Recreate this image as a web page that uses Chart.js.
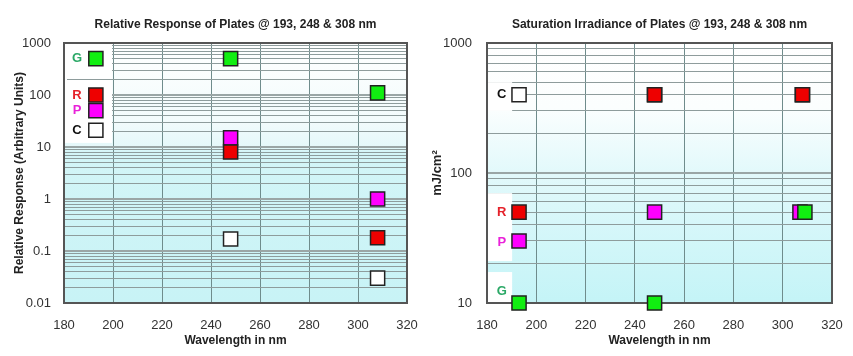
<!DOCTYPE html>
<html><head><meta charset="utf-8">
<script src="https://cdn.jsdelivr.net/npm/chart.js@4"></script>
<style>
body{margin:0;background:#fff;width:853px;height:356px;overflow:hidden;position:relative}
canvas{position:absolute;top:0}
</style></head>
<body>
<canvas id="c1" width="430" height="356" style="left:0"></canvas>
<canvas id="c2" width="423" height="356" style="left:430px"></canvas>
<script>
// ---- data ----
const wavelengths = [193, 248, 308];
const leftG = [500, 500, 110];
const leftR = [100, 8, 0.18];
const leftP = [50, 15, 1];
const leftC = [21, 0.17, 0.03];

const rightGX = [193, 248, 309];
const rightG = [10, 10, 50];
const rightR = [50, 400, 400];
const rightPX = [193, 248, 307];
const rightP = [30, 50, 50];
const rightC = [400, 400, 400];

const xTicks = [180, 200, 220, 240, 260, 280, 300, 320];
const leftYMajor = [0.01, 0.1, 1, 10, 100, 1000];
const leftYLabels = ['0.01', '0.1', '1', '10', '100', '1000'];
const rightYMajor = [10, 100, 1000];
const rightYLabels = ['10', '100', '1000'];
const minorSteps = [1, 2, 3, 4, 5, 6, 7, 8, 9];

const seriesNames = ['G', 'R', 'P', 'C'];
const leftLabelY = [500, 100, 50, 21];
const rightLabelY = [12.2, 50, 29, 400];

const COL = {G:'#11ee11', R:'#ee0000', P:'#ff00ff', C:'#ffffff'};
const TXT = {G:'#2aa866', R:'#e5222b', P:'#e922d9', C:'#111111'};
const FONT = '"Liberation Sans", Arial, sans-serif';

function allTicks(major){
  const out = [];
  for (let i = 0; i < major.length - 1; i++) minorSteps.forEach(s => out.push(major[i] * s));
  out.push(major[major.length - 1]);
  return out;
}
function isMajor(v){ const l = Math.log10(v); return Math.abs(l - Math.round(l)) < 1e-9; }

function pts(xs, ys){ return xs.map((x, i) => ({x: x, y: ys[i]})); }
function ds(name, xs, ys){
  return {label: name, data: pts(xs, ys), backgroundColor: COL[name], borderColor: '#222',
    borderWidth: 1.5, pointStyle: 'rect', pointRadius: 10, pointHoverRadius: 10, showLine: false, clip: false};
}

const bgPlugin = {
  id: 'bgp',
  beforeDraw(chart, args, opts){
    const {ctx, chartArea: a} = chart;
    const g = ctx.createLinearGradient(0, a.top, 0, a.bottom);
    opts.stops.forEach(s => g.addColorStop(s[0], s[1]));
    ctx.save(); ctx.fillStyle = g; ctx.fillRect(a.left, a.top, a.right - a.left, a.bottom - a.top); ctx.restore();
  },
  beforeDatasetsDraw(chart, args, opts){
    const {ctx, chartArea: a, scales: {x, y}} = chart;
    ctx.save();
    ctx.fillStyle = '#ffffff';
    opts.boxes.forEach(b => {
      const x0 = x.getPixelForValue(b[0]), x1 = x.getPixelForValue(b[1]);
      const y0 = y.getPixelForValue(b[3]), y1 = y.getPixelForValue(b[2]);
      ctx.fillRect(Math.max(x0, a.left + 1), y0, x1 - Math.max(x0, a.left + 1), y1 - y0);
    });
    ctx.strokeStyle = '#8e9c9c'; ctx.lineWidth = 1;
    (opts.lines || []).forEach(v => {
      const py = Math.round(y.getPixelForValue(v)) + 0.5;
      ctx.beginPath(); ctx.moveTo(a.left + 3, py); ctx.lineTo(a.right, py); ctx.stroke();
    });
    ctx.strokeStyle = '#555'; ctx.lineWidth = 2;
    ctx.strokeRect(a.left, a.top, a.right - a.left, a.bottom - a.top);
    ctx.font = 'bold 13px ' + FONT;
    ctx.textAlign = 'center'; ctx.textBaseline = 'middle';
    seriesNames.forEach((n, i) => {
      ctx.fillStyle = TXT[n];
      ctx.fillText(n, x.getPixelForValue(opts.labelX), y.getPixelForValue(opts.labelY[i]));
    });
    ctx.restore();
  }
};

function makeChart(id, cfg){
  return new Chart(document.getElementById(id), {
    type: 'scatter',
    data: {datasets: [
      ds('G', cfg.gx, cfg.g), ds('R', wavelengths, cfg.r), ds('P', cfg.px, cfg.p), ds('C', wavelengths, cfg.c)
    ]},
    options: {
      responsive: false, animation: false, events: [],
      layout: {autoPadding: false, padding: {left: 0, right: cfg.padRight, top: 0, bottom: 0}},
      plugins: {
        legend: {display: false}, tooltip: {enabled: false},
        title: {display: true, text: cfg.title, fullSize: false, color: '#222',
          font: {family: FONT, size: 12, weight: 'bold'},
          padding: {top: 17, bottom: 11.6}},
        bgp: {stops: cfg.stops, boxes: cfg.boxes, lines: cfg.lines, labelX: cfg.labelX, labelY: cfg.labelY}
      },
      scales: {
        x: {type: 'linear', min: 180, max: 320,
          afterBuildTicks: s => { s.ticks = xTicks.map(v => ({value: v})); },
          afterFit: s => { s.height = 53; s.paddingLeft = 0; s.paddingRight = 0; },
          grid: {color: '#6f8c8c', lineWidth: 1, drawTicks: false},
          border: {display: false},
          ticks: {color: '#333', padding: 15, font: {family: FONT, size: 13}},
          title: {display: true, text: 'Wavelength in nm', color: '#222', padding: {top: 0, bottom: 8},
            font: {family: FONT, size: 12, weight: 'bold'}}
        },
        y: {type: 'logarithmic', min: cfg.yMajor[0], max: cfg.yMajor[cfg.yMajor.length - 1],
          afterBuildTicks: s => { s.ticks = allTicks(cfg.yMajor).map(v => ({value: v, major: isMajor(v)})); },
          afterFit: s => { s.width = cfg.yWidth; s.paddingTop = 0; s.paddingBottom = 0; },
          grid: {drawTicks: false,
            color: c => isMajor(c.tick.value) ? '#9aa6a6' : '#8e9c9c',
            lineWidth: c => isMajor(c.tick.value) ? 2 : 1},
          border: {display: false},
          ticks: {color: '#333', padding: cfg.tickPad, autoSkip: false,
            font: {family: FONT, size: 13},
            callback: v => { const i = cfg.yMajor.findIndex(m => Math.abs(m - v) / m < 1e-9); return i >= 0 ? cfg.yLabels[i] : ''; }},
          title: {display: true, text: cfg.yTitle, color: '#222', padding: {top: cfg.yTitlePad, bottom: 0},
            font: {family: FONT, size: cfg.yTitleSize, weight: 'bold'}}
        }
      }
    },
    plugins: [bgPlugin]
  });
}

makeChart('c1', {
  title: 'Relative Response of Plates @ 193, 248 & 308 nm',
  gx: wavelengths, g: leftG, r: leftR, px: wavelengths, p: leftP, c: leftC,
  yMajor: leftYMajor, yLabels: leftYLabels, yTitle: 'Relative Response (Arbitrary Units)',
  yWidth: 64, tickPad: 13, yTitlePad: 12, yTitleSize: 12, padRight: 23,
  stops: [[0, '#ffffff'], [0.3, '#f2fbfc'], [0.4, '#e4f8fa'], [0.42, '#d3f5f7'], [1, '#c8f3f6']],
  boxes: [[180, 199.6, 12, 1000]], lines: [200],
  labelX: 185.3, labelY: leftLabelY
});
makeChart('c2', {
  title: 'Saturation Irradiance of Plates @ 193, 248 & 308 nm',
  gx: rightGX, g: rightG, r: rightR, px: rightPX, p: rightP, c: rightC,
  yMajor: rightYMajor, yLabels: rightYLabels, yTitle: 'mJ/cm²',
  yWidth: 57, tickPad: 15, yTitlePad: 0, yTitleSize: 13, padRight: 21,
  stops: [[0, '#ffffff'], [0.25, '#fbfefe'], [0.5, '#e2f9fb'], [1, '#c4f4f7']],
  boxes: [[180, 190.2, 300, 500], [180, 190.2, 21, 70], [180, 190.2, 10, 17.3]], lines: [],
  labelX: 186, labelY: rightLabelY
});
</script>
</body></html>
